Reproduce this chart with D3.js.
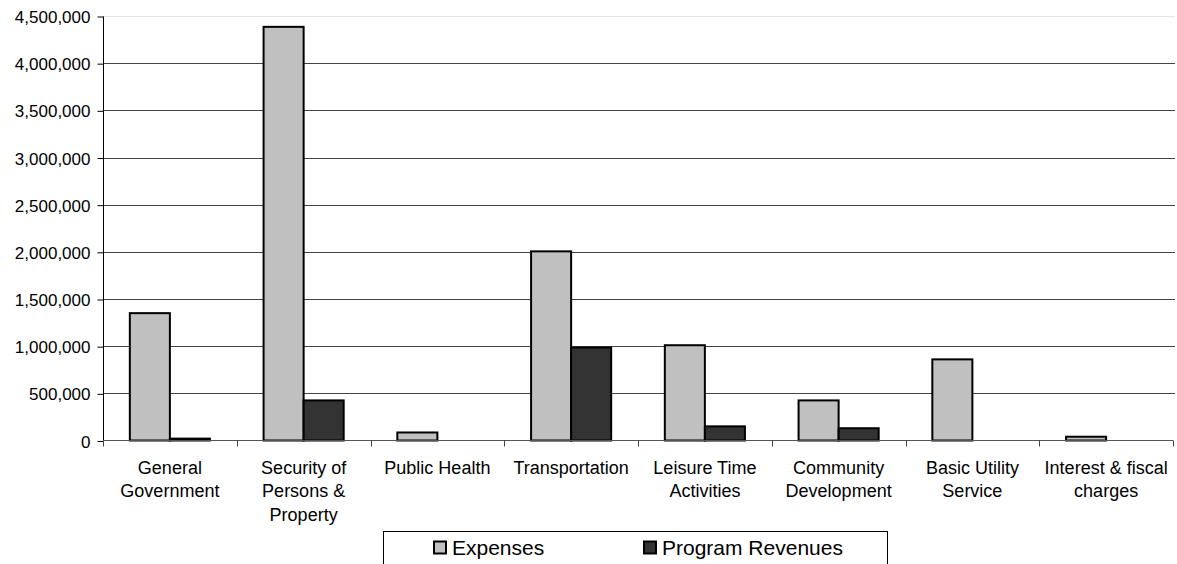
<!DOCTYPE html>
<html>
<head>
<meta charset="utf-8">
<script src="https://cdn.jsdelivr.net/npm/d3@7"></script>
<style>
  body { margin: 0; background: #fff; }
  text { font-family: "Liberation Sans", Arial, sans-serif; fill: #000; }
</style>
</head>
<body>
<div id="chart"></div>
<script>
'use strict';

var categories = [
    ["General", "Government"],
    ["Security of", "Persons &", "Property"],
    ["Public Health"],
    ["Transportation"],
    ["Leisure Time", "Activities"],
    ["Community", "Development"],
    ["Basic Utility", "Service"],
    ["Interest & fiscal", "charges"]
];
var seriesNames = ["Expenses", "Program Revenues"];
var expenses = [1350000, 4385000, 85000, 2005000, 1010000, 425000, 860000, 40000];
var revenues = [20000, 425000, 0, 985000, 150000, 130000, 0, 0];
var yTicks = [0, 500000, 1000000, 1500000, 2000000, 2500000, 3000000, 3500000, 4000000, 4500000];
var colors = ["#c0c0c0", "#333333"];

var width = 1177, height = 564;
var plotLeft = 103, plotRight = 1173, plotTop = 16, plotBottom = 440.5;

var svg = d3.select("#chart").append("svg")
            .attr("width", width)
            .attr("height", height);

var x = d3.scaleBand()
          .domain(d3.range(categories.length))
          .range([plotLeft, plotRight])
          .paddingInner(0)
          .paddingOuter(0);

// two bars side by side, centred in each category
var xInner = d3.scaleBand()
               .domain([0, 1])
               .range([0, x.bandwidth()])
               .paddingOuter(0.67)
               .paddingInner(0);

var y = d3.scaleLinear()
          .domain([0, 4500000])
          .range([plotBottom, plotTop]);

// grid lines
svg.append("g")
   .selectAll("line")
   .data(yTicks.slice(1))
   .enter()
   .append("line")
   .attr("x1", plotLeft)
   .attr("x2", plotRight + 2)
   .attr("y1", d => Math.round(y(d)) + 0.5)
   .attr("y2", d => Math.round(y(d)) + 0.5)
   .attr("stroke", d => d == 4500000 ? "#e6e6e6" : "#444")
   .attr("stroke-width", 1);

// y axis
var yAxis = d3.axisLeft(y)
              .tickValues(yTicks)
              .tickSize(6)
              .tickPadding(7)
              .tickFormat(d3.format(","));
var gy = svg.append("g")
            .attr("transform", "translate(" + (plotLeft + 0.5) + ",0.5)")
            .call(yAxis);
gy.select(".domain").attr("stroke", "#000").attr("d", "M0," + y(4500000) + "V" + y(0));
gy.selectAll(".tick line").attr("stroke", "#000");
gy.selectAll("text")
  .attr("font-size", 17)
  .attr("dy", "0.36em")
  .style("font-family", '"Liberation Sans", Arial, sans-serif');

// bars
var data = [];
categories.forEach((c, i) => {
    data.push({cat: i, s: 0, v: expenses[i]});
    data.push({cat: i, s: 1, v: revenues[i]});
});

svg.append("g")
   .selectAll("rect")
   .data(data.filter(d => d.v > 0))
   .enter()
   .append("rect")
   .attr("x", d => x(d.cat) + xInner(d.s))
   .attr("y", d => y(d.v))
   .attr("width", xInner.bandwidth())
   .attr("height", d => y(0) - y(d.v))
   .attr("fill", d => colors[d.s])
   .attr("stroke", "#000")
   .attr("stroke-width", 2);

// x axis
var xTicks = d3.range(categories.length + 1).map(i => plotLeft + i * x.bandwidth());
var gx = svg.append("g");
gx.append("line")
  .attr("x1", plotLeft)
  .attr("x2", plotRight)
  .attr("y1", plotBottom)
  .attr("y2", plotBottom)
  .attr("stroke", "#555");
gx.selectAll(".xt")
  .data(xTicks)
  .enter()
  .append("line")
  .attr("x1", d => Math.round(d) + 0.5)
  .attr("x2", d => Math.round(d) + 0.5)
  .attr("y1", plotBottom)
  .attr("y2", plotBottom + 6)
  .attr("stroke", "#444");

var labels = gx.selectAll(".lab")
               .data(categories)
               .enter()
               .append("text")
               .attr("text-anchor", "middle")
               .attr("font-size", 18)
               .attr("transform", (d, i) => "translate(" + (x(i) + x.bandwidth() / 2) + "," + 474 + ")");
labels.selectAll("tspan")
      .data(d => d)
      .enter()
      .append("tspan")
      .attr("x", 0)
      .attr("dy", (d, j) => j == 0 ? 0 : 23.3)
      .text(d => d);

// legend
var legend = svg.append("g");
legend.append("rect")
      .attr("x", 383.5)
      .attr("y", 531.5)
      .attr("width", 504)
      .attr("height", 40)
      .attr("fill", "#fff")
      .attr("stroke", "#000");

var legendX = [433, 643];
seriesNames.forEach((name, i) => {
    legend.append("rect")
          .attr("x", legendX[i] + 1)
          .attr("y", 541.5)
          .attr("width", 12)
          .attr("height", 12)
          .attr("fill", colors[i])
          .attr("stroke", "#000")
          .attr("stroke-width", 2);
    legend.append("text")
          .attr("x", legendX[i] + 19)
          .attr("y", 555)
          .attr("font-size", 21)
          .text(name);
});
</script>
</body>
</html>
